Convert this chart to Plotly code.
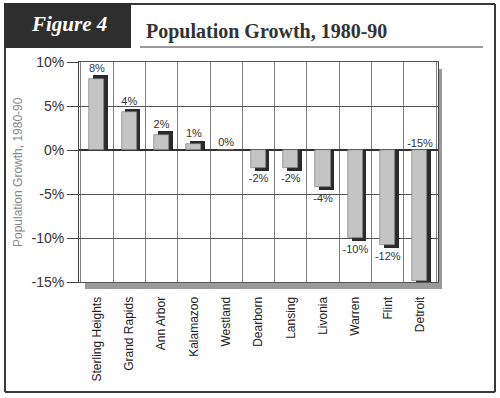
import numpy as np
import plotly.graph_objects as go

cities = ["Sterling Heights", "Grand Rapids", "Ann Arbor", "Kalamazoo", "Westland",
          "Dearborn", "Lansing", "Livonia", "Warren", "Flint", "Detroit"]
growth = [8.1, 4.3, 1.75, 0.7, 0.0, -2.0, -2.0, -4.2, -10.0, -10.8, -14.9]
labels = ["8%", "4%", "2%", "1%", "0%", "-2%", "-2%", "-4%", "-10%", "-12%", "-15%"]
y_ticks = [10, 5, 0, -5, -10, -15]
y_tick_text = ["10%", "5%", "0%", "-5%", "-10%", "-15%"]

W, H = 500, 398
L, T, R, B = 79, 62, 438, 282
PW, PH = R - L, B - T
YMIN, YMAX = -15, 10


def X(px):
    return (px - L) / PW


def Y(py):
    return (B - py) / PH


vals = np.array(growth)
depth = 0.38
shadow_vals = vals + np.sign(vals) * depth
gap = 0.35

# label placement: above positive bars, below negative ones, above axis if bar hits the floor
lab_y, lab_pos = [], []
for v, s in zip(vals, shadow_vals):
    if v >= 0:
        lab_y.append(s + gap * 0.3); lab_pos.append("top center")
    elif v <= YMIN + 0.5:
        lab_y.append(0); lab_pos.append("top center")
    else:
        lab_y.append(s - gap); lab_pos.append("bottom center")

fig = go.Figure()
fig.add_trace(go.Bar(x=cities, y=shadow_vals, width=0.46, offset=-0.12,
                     marker=dict(color="#2a2a2a", line=dict(width=0)),
                     hoverinfo="skip", showlegend=False))
fig.add_trace(go.Bar(x=cities, y=vals, width=0.47, offset=-0.24,
                     marker=dict(color="#c4c4c4", line=dict(width=0.6, color="#707070")),
                     showlegend=False))
fig.add_trace(go.Scatter(x=cities, y=lab_y, text=labels, mode="text",
                         textposition=lab_pos, cliponaxis=False,
                         textfont=dict(family="Liberation Sans", size=11, color="#333333"),
                         showlegend=False, hoverinfo="skip"))

line_col = "#3a3a3a"
shapes = [
    # plot-area drop shadow
    dict(type="rect", xref="paper", yref="paper", x0=X(85), x1=X(442), y0=Y(289), y1=Y(69),
         fillcolor="#9a9a9a", line=dict(width=0), layer="below"),
    dict(type="rect", xref="paper", yref="paper", x0=0, x1=1, y0=0, y1=1,
         fillcolor="white", line=dict(width=0), layer="below"),
    # outer frame
    dict(type="line", xref="paper", yref="paper", x0=X(5), x1=X(5), y0=Y(48), y1=Y(392),
         line=dict(color=line_col, width=2)),
    dict(type="line", xref="paper", yref="paper", x0=X(5), x1=X(495), y0=Y(392), y1=Y(392),
         line=dict(color=line_col, width=2)),
    dict(type="line", xref="paper", yref="paper", x0=X(495), x1=X(495), y0=Y(4), y1=Y(392),
         line=dict(color=line_col, width=2)),
    dict(type="line", xref="paper", yref="paper", x0=X(130), x1=X(495), y0=Y(4), y1=Y(4),
         line=dict(color=line_col, width=2)),
    # figure label box
    dict(type="rect", xref="paper", yref="paper", x0=X(4), x1=X(131), y0=Y(48), y1=Y(3),
         fillcolor="#2e2e2e", line=dict(width=0)),
    # title underline
    dict(type="line", xref="paper", yref="paper", x0=X(140), x1=X(483), y0=Y(47), y1=Y(47),
         line=dict(color="#777", width=1.5)),
]

annotations = [
    dict(text="<i><b>Figure 4</b></i>", xref="paper", yref="paper", x=X(69), y=Y(24),
         xanchor="center", yanchor="middle", showarrow=False,
         font=dict(family="Liberation Serif", size=21, color="white")),
    dict(text="<b>Population Growth, 1980-90</b>", xref="paper", yref="paper", x=X(144), y=Y(31),
         xanchor="left", yanchor="middle", showarrow=False,
         font=dict(family="Liberation Serif", size=20, color="#333333")),
    dict(text="Population Growth, 1980-90", xref="paper", yref="paper", x=X(18), y=Y(172),
         xanchor="center", yanchor="middle", textangle=-90, showarrow=False,
         font=dict(family="Liberation Sans", size=12, color="#888")),
]

fig.update_layout(
    width=W, height=H,
    margin=dict(l=L, r=W - R, t=T, b=H - B, autoexpand=False),
    paper_bgcolor="white", plot_bgcolor="rgba(0,0,0,0)",
    barmode="overlay", bargap=0,
    shapes=shapes, annotations=annotations,
    xaxis=dict(type="category", tickson="boundaries", showgrid=True, gridcolor="#808080",
               gridwidth=1, tickangle=-90, ticks="", showline=True, mirror=True,
               linecolor="#555", linewidth=1, ticklabelstandoff=9,
               tickfont=dict(family="Liberation Sans", size=12, color="#222")),
    yaxis=dict(range=[YMIN, YMAX], tickvals=y_ticks, ticktext=y_tick_text,
               showgrid=True, gridcolor="#555", gridwidth=1,
               zeroline=True, zerolinecolor="#333", zerolinewidth=1.5,
               ticks="outside", ticklen=11, tickcolor="#444",
               showline=True, mirror=True, linecolor="#444", linewidth=1,
               tickfont=dict(family="Liberation Sans", size=14, color="#333")),
)

fig.write_html("out.html", config={"displayModeBar": False},
               post_script="document.body.style.margin='0';")
